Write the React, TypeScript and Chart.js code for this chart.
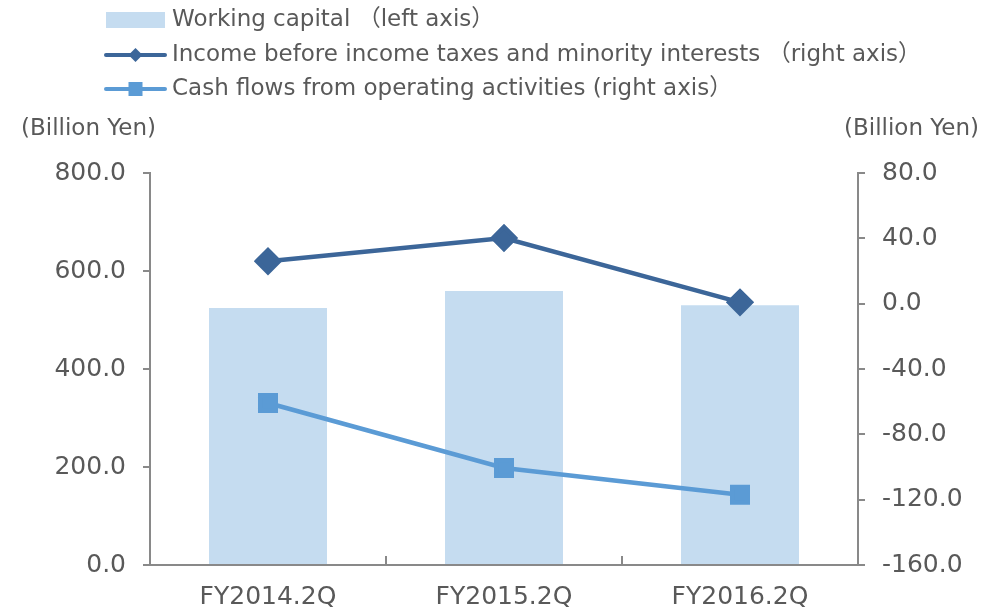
import React, { useEffect, useRef } from "react";
import { Chart, registerables } from "chart.js";

Chart.register(...registerables);

const categories = ["FY2014.2Q", "FY2015.2Q", "FY2016.2Q"];
const workingCapital = [524.5, 559.0, 530.0];
const incomeBeforeTaxes = [26.0, 40.2, 0.8];
const operatingCashFlows = [-60.8, -100.6, -117.0];
const leftTicks = [0, 200, 400, 600, 800];
const rightTicks = [-160, -120, -80, -40, 0, 40, 80];
const legendLabels = [
  "Working capital \uFF08left axis\uFF09",
  "Income before income taxes and minority interests \uFF08right axis\uFF09",
  "Cash flows from operating activities (right axis\uFF09",
];
const unitLabel = "(Billion Yen)";

const TEXT = "#595959";
const AXIS = "#898989";
const BAR = "#C5DCF0";
const DARK = "#3C6699";
const LIGHT = "#5B9BD5";
const FONT = "'DejaVu Sans', 'Noto Sans CJK JP', sans-serif";

const overlay = {
  id: "overlay",
  afterDraw(chart: any) {
    const ctx = chart.ctx;
    const x = chart.scales.x;
    const area = chart.chartArea;
    ctx.save();
    // upward ticks on x axis at category boundaries
    ctx.strokeStyle = AXIS;
    ctx.lineWidth = 2;
    for (let i = 1; i < categories.length; i++) {
      const px = (x.getPixelForTick(i - 1) + x.getPixelForTick(i)) / 2;
      ctx.beginPath();
      ctx.moveTo(px, area.bottom);
      ctx.lineTo(px, area.bottom - 9);
      ctx.stroke();
    }
    // unit labels
    ctx.fillStyle = TEXT;
    ctx.font = `23px ${FONT}`;
    ctx.textBaseline = "middle";
    ctx.textAlign = "left";
    ctx.fillText(unitLabel, 21, 129);
    ctx.textAlign = "right";
    ctx.fillText(unitLabel, 979, 129);
    // legend
    const lx0 = 106, lx1 = 165, tx = 172;
    const rows = [20, 55, 89];
    ctx.textAlign = "left";
    // row 1: bar swatch
    ctx.fillStyle = BAR;
    ctx.fillRect(lx0, rows[0] - 8, lx1 - lx0, 16);
    // row 2: line + diamond
    ctx.strokeStyle = DARK;
    ctx.lineWidth = 4;
    ctx.lineCap = "round";
    ctx.beginPath();
    ctx.moveTo(lx0, rows[1]);
    ctx.lineTo(lx1, rows[1]);
    ctx.stroke();
    ctx.fillStyle = DARK;
    const cx = (lx0 + lx1) / 2;
    ctx.beginPath();
    ctx.moveTo(cx, rows[1] - 7);
    ctx.lineTo(cx + 7, rows[1]);
    ctx.lineTo(cx, rows[1] + 7);
    ctx.lineTo(cx - 7, rows[1]);
    ctx.closePath();
    ctx.fill();
    // row 3: line + square
    ctx.strokeStyle = LIGHT;
    ctx.beginPath();
    ctx.moveTo(lx0, rows[2]);
    ctx.lineTo(lx1, rows[2]);
    ctx.stroke();
    ctx.fillStyle = LIGHT;
    ctx.fillRect(cx - 7, rows[2] - 7, 14, 14);
    ctx.fillStyle = TEXT;
    legendLabels.forEach((t, i) => ctx.fillText(t, tx, rows[i]));
    ctx.restore();
  },
};

export default function App() {
  const ref = useRef<HTMLCanvasElement>(null);
  useEffect(() => {
    if (!ref.current) return;
    const chart = new Chart(ref.current, {
      type: "bar",
      data: {
        labels: categories,
        datasets: [
          {
            type: "line",
            label: legendLabels[1],
            data: incomeBeforeTaxes,
            yAxisID: "y1",
            borderColor: DARK,
            backgroundColor: DARK,
            borderWidth: 4.5,
            pointStyle: "rectRot",
            pointRadius: 11,
            pointHoverRadius: 11,
            order: 1,
          } as any,
          {
            type: "line",
            label: legendLabels[2],
            data: operatingCashFlows,
            yAxisID: "y1",
            borderColor: LIGHT,
            backgroundColor: LIGHT,
            borderWidth: 4.5,
            pointStyle: "rect",
            pointRadius: 11,
            pointHoverRadius: 11,
            order: 2,
          } as any,
          {
            type: "bar",
            label: legendLabels[0],
            data: workingCapital,
            yAxisID: "y",
            backgroundColor: BAR,
            barPercentage: 0.5,
            categoryPercentage: 1,
            order: 3,
          },
        ],
      },
      options: {
        animation: false,
        responsive: true,
        maintainAspectRatio: false,
        layout: { padding: { top: 173, left: 0, right: 0, bottom: 0 } },
        plugins: { legend: { display: false }, tooltip: { enabled: false } },
        scales: {
          x: {
            afterFit: (s: any) => { s.height = 45; },
            grid: { display: false },
            border: { display: true, color: AXIS, width: 2 },
            ticks: { color: TEXT, font: { family: FONT, size: 25 }, padding: 9 },
          },
          y: {
            position: "left",
            min: 0,
            max: 800,
            afterFit: (s: any) => { s.width = 150; },
            afterBuildTicks: (s: any) => { s.ticks = leftTicks.map((v) => ({ value: v })); },
            grid: { drawOnChartArea: false, drawTicks: true, tickLength: 7, color: AXIS, lineWidth: 2 },
            border: { display: true, color: AXIS, width: 2 },
            ticks: { color: TEXT, font: { family: FONT, size: 25 }, padding: 17, callback: (v: any) => Number(v).toFixed(1) },
          },
          y1: {
            position: "right",
            min: -160,
            max: 80,
            afterFit: (s: any) => { s.width = 135; },
            afterBuildTicks: (s: any) => { s.ticks = rightTicks.map((v) => ({ value: v })); },
            grid: { drawOnChartArea: false, drawTicks: true, tickLength: 7, color: AXIS, lineWidth: 2 },
            border: { display: true, color: AXIS, width: 2 },
            ticks: { color: TEXT, font: { family: FONT, size: 25 }, padding: 17, callback: (v: any) => Number(v).toFixed(1) },
          },
        },
      },
      plugins: [overlay],
    });
    return () => chart.destroy();
  }, []);
  return (
    <div style={{ position: "fixed", left: 0, top: 0, width: 993, height: 610, background: "#fff" }}>
      <canvas ref={ref} />
    </div>
  );
}
